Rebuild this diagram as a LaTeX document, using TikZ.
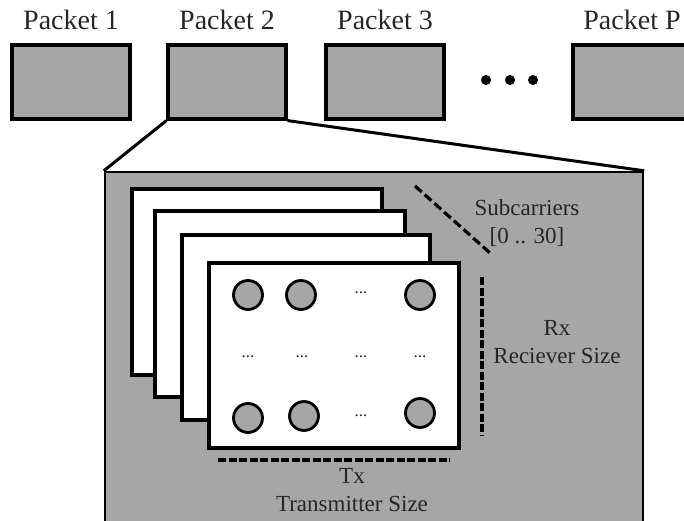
\documentclass[tikz,border=0pt]{standalone}
\usepackage{fontspec}
\setmainfont{Liberation Serif}
\definecolor{boxgray}{HTML}{A6A6A6}
\definecolor{txt}{HTML}{262626}
\begin{document}
\begin{tikzpicture}[x=1pt,y=-1pt,
  packet/.style={draw=black,line width=3.2pt,fill=boxgray,minimum width=118pt,minimum height=74pt,inner sep=0pt},
  plabel/.style={anchor=base,font=\fontsize{28}{30}\selectfont,text=txt,inner sep=0pt},
  frame/.style={draw=black,line width=4.2pt,fill=white},
  ant/.style={circle,draw=black,line width=2.8pt,fill=boxgray,minimum size=29pt,inner sep=0pt},
  ell/.style={font=\fontsize{17}{17}\selectfont,text=txt,inner sep=0pt},
  dim/.style={line width=3.2pt,dash pattern=on 8pt off 2.5pt},
  lbl/.style={anchor=base,align=center,font=\fontsize{23}{28}\selectfont,text=txt,inner sep=0pt},
  bigdot/.style={circle,fill=black,minimum size=10pt,inner sep=0pt}]
\useasboundingbox (0,0) rectangle (684,521);
\clip (0,0) rectangle (684,521);
% panel
\node[draw=black,line width=2.4pt,fill=boxgray,minimum width=538pt,minimum height=360pt,inner sep=0pt] (panel) at (374,352) {};
% packets
\node[packet] (p1) at (71,82) {};
\node[packet] (p2) at (227,82) {};
\node[packet] (p3) at (385,82) {};
\node[packet] (pP) at (632,82) {};
\node[plabel] (l1) at (71,30) {Packet 1};
\node[plabel] (l2) at (227,30) {Packet 2};
\node[plabel] (l3) at (385,30) {Packet 3};
\node[plabel] (lP) at (632,30) {Packet P};
\node[bigdot] (d1) at (486,80) {};
\node[bigdot] (d2) at (510,80) {};
\node[bigdot] (d3) at (533,80) {};
% zoom connectors
\draw[line width=3pt] (p2.south west) -- (panel.north west);
\draw[line width=3pt] (p2.south east) -- (panel.north east);
% frames
\draw[frame] (132,189) rectangle (382,375);
\draw[frame] (155,211) rectangle (405,397);
\draw[frame] (182,235) rectangle (430,420);
\draw[frame] (209,263) rectangle (459,448);
% antennas
\node[ant] (a11) at (248,295) {};
\node[ant] (a12) at (301,295) {};
\node[ell] (e13) at (361,293) {...};
\node[ant] (a14) at (420,295) {};
\node[ell] (e21) at (248,357) {...};
\node[ell] (e22) at (302,357) {...};
\node[ell] (e23) at (361,357) {...};
\node[ell] (e24) at (420,357) {...};
\node[ant] (a31) at (248,418) {};
\node[ant] (a32) at (304,416) {};
\node[ell] (e33) at (361,416) {...};
\node[ant] (a34) at (420,413) {};
% dimension marks
\coordinate (sA) at (415,186);
\coordinate (sB) at (490,253);
\draw[dim,dash pattern=on 9pt off 4pt] (sA) -- (sB);
\coordinate (rA) at (482,277);
\coordinate (rB) at (482,435);
\draw[dim] (rA) -- (rB);
\coordinate (tA) at (218,460);
\coordinate (tB) at (450,460);
\draw[dim] (tA) -- (tB);
% labels
\node[lbl] (sub) at (527,243) {Subcarriers\\{[0 .. 30]}};
\node[lbl] (rx) at (557,363) {Rx\\Reciever Size};
\node[lbl] (tx) at (352,511) {Tx\\Transmitter Size};
\end{tikzpicture}
\end{document}
